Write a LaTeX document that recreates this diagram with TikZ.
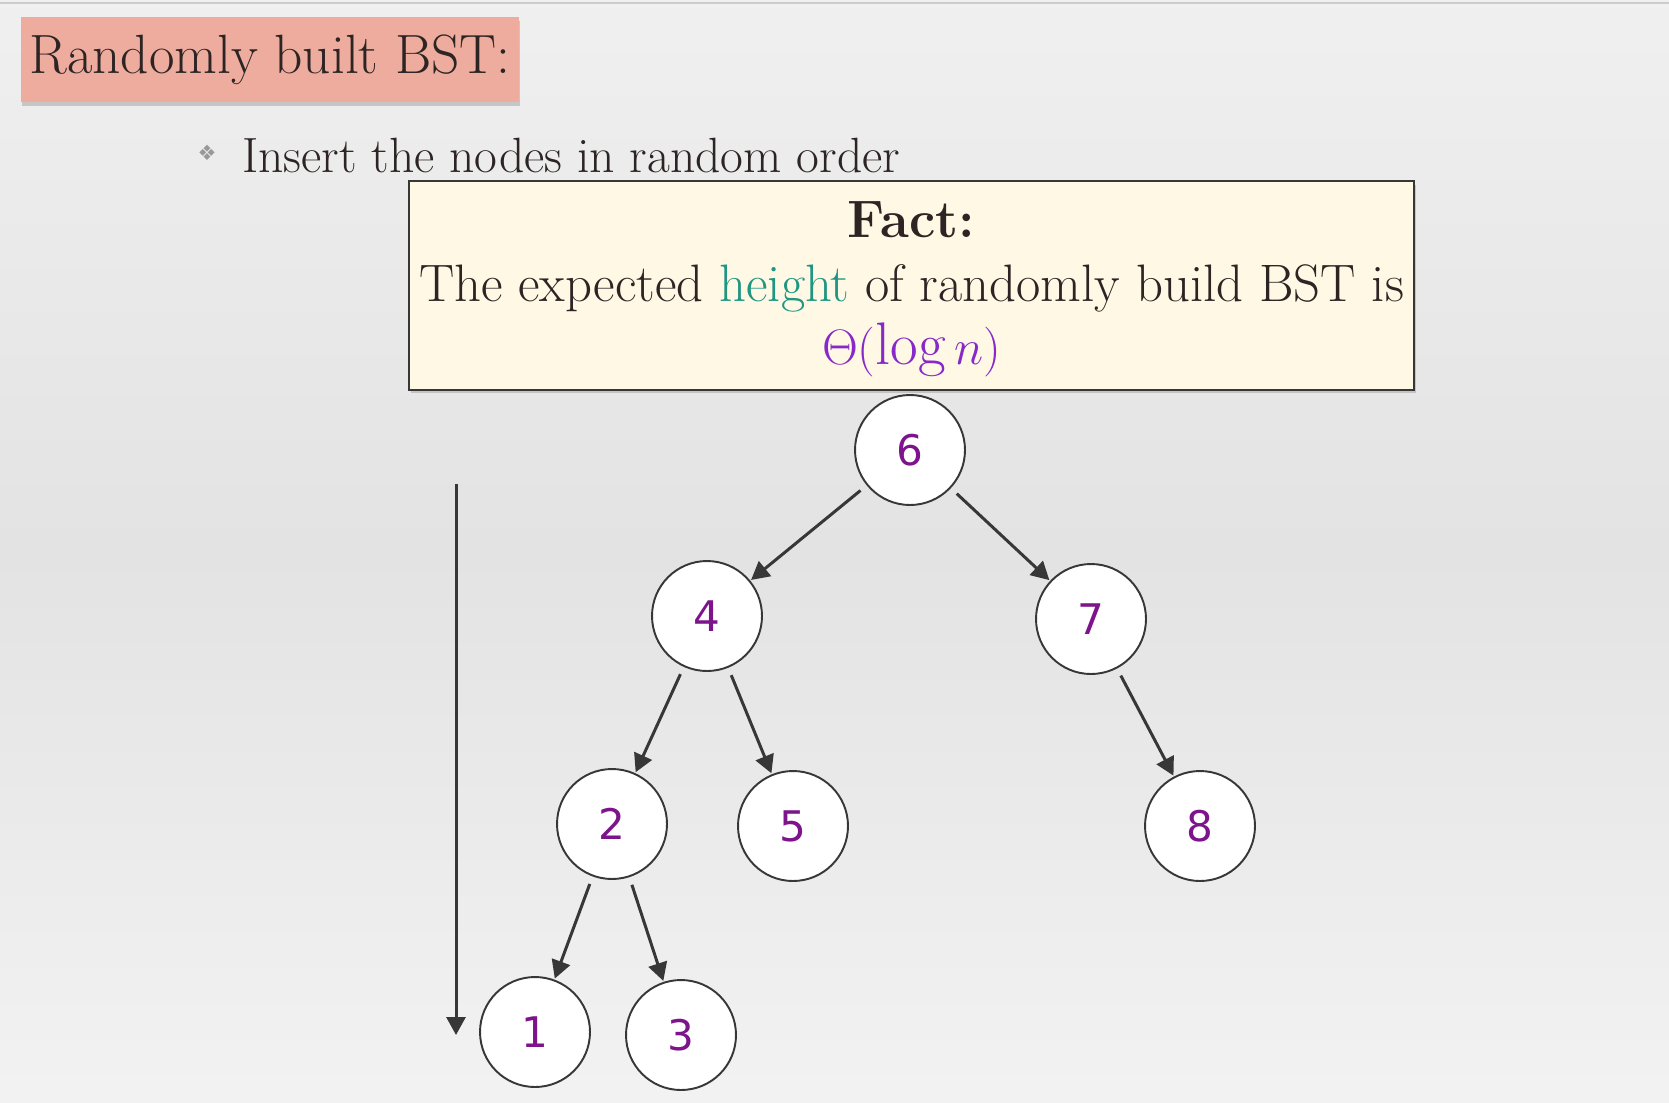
\documentclass[tikz,border=0pt]{standalone}
\usepackage{fontspec}
\usetikzlibrary{arrows.meta,shadows}
\newfontfamily\keyfont{DejaVu Sans}

\definecolor{inkcol}{RGB}{45,36,36}
\definecolor{titlecol}{RGB}{238,172,158}
\definecolor{factcol}{RGB}{254,248,228}
\definecolor{heightcol}{RGB}{30,150,130}
\definecolor{thetacol}{RGB}{135,40,200}
\definecolor{keycol}{RGB}{125,20,140}
\definecolor{edgecol}{RGB}{55,55,55}

\begin{document}
\begin{tikzpicture}[x=0.02cm, y=-0.02cm,
          key/.style={circle, draw=edgecol, fill=white, line width=1.1pt,
                      minimum size=2.2cm, inner sep=0,
                      font=\keyfont\fontsize{24}{28}\selectfont, text=keycol},
          link/.style={draw=edgecol, line width=1.7pt,
                       -{Triangle[length=0.36cm, width=0.38cm]},
                       shorten <=0.16cm, shorten >=0.02cm}
        ]
        % ---- page background ----
        \useasboundingbox (0,0) rectangle (1669,1102);
        \shade[top color=black!6, bottom color=black!5, middle color=black!11]
          (0,0) rectangle (1669,1102);
        \draw[black!20, line width=0.6pt] (0,3) -- (1669,3);

        % ---- heading ----
        \node[fill=titlecol, minimum width=9.96cm, minimum height=1.7cm,
              drop shadow={shadow xshift=0.5pt, shadow yshift=-2pt, opacity=0.35},
              text=inkcol, font=\fontsize{31.5}{36}\selectfont] (title) at (270,59.5)
          {Randomly built BST:};

        % ---- bullet ----
        \node[text=black!40, font=\keyfont\fontsize{12}{14}\selectfont] (dot) at (207,153) {❖};
        \node[anchor=west, text=inkcol, font=\fontsize{28.2}{32}\selectfont] (insert) at (236,156)
          {Insert the nodes in random order};

        % ---- fact box ----
        \node[fill=factcol, draw=edgecol, line width=0.9pt,
              minimum width=20.1cm, minimum height=4.18cm,
              drop shadow={shadow xshift=1pt, shadow yshift=-2pt, opacity=0.35}]
          (fact) at (911.5,285.5) {};
        \node[align=center, text=inkcol, font=\fontsize{30}{36}\selectfont]
          (factText) at ([yshift=-0.08cm]fact.center)
          {\textbf{Fact:}\\
           The expected \textcolor{heightcol}{height} of randomly build BST is\\
           \textcolor{thetacol}{\scalebox{1.14}{$\Theta(\log n)$}}};

        % ---- keys ----
        \node[key] (k6) at (910,450) {6};
        \node[key] (k4) at (707,616) {4};
        \node[key] (k7) at (1091,619) {7};
        \node[key] (k2) at (612,824) {2};
        \node[key] (k5) at (793,826) {5};
        \node[key] (k8) at (1200,826) {8};
        \node[key] (k1) at (535,1032) {1};
        \node[key] (k3) at (681,1035) {3};

        % ---- child links ----
        \draw[link] (k6) -- (k4);
        \draw[link] (k6) -- (k7);
        \draw[link] (k4) -- (k2);
        \draw[link] (k4) -- (k5);
        \draw[link] (k7) -- (k8);
        \draw[link] (k2) -- (k1);
        \draw[link] (k2) -- (k3);

        % ---- height arrow ----
        \coordinate (hTop) at (456,484);
        \coordinate (hBot) at (456,1035);
        \draw[link, shorten <=0pt, shorten >=0pt] (hTop) -- (hBot);

      \end{tikzpicture}
\end{document}
